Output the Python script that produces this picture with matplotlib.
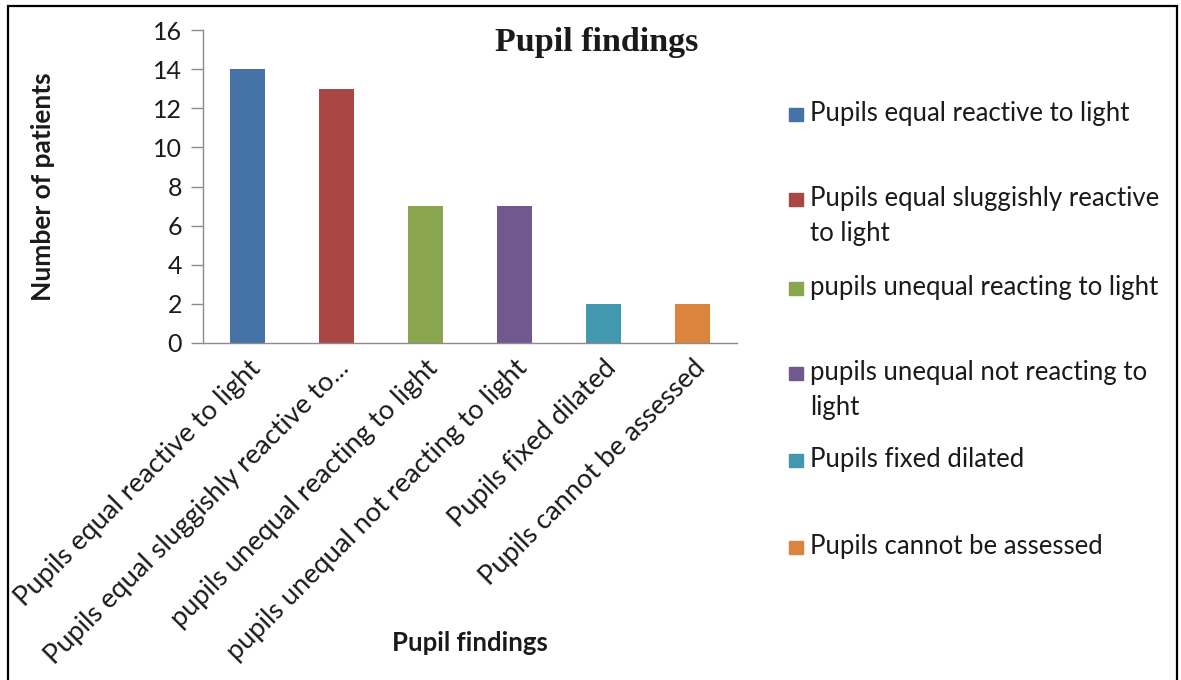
import matplotlib
matplotlib.use("Agg")
import matplotlib.pyplot as plt
from matplotlib.patches import Rectangle

# Pupil findings counts
categories = [
    "Pupils equal reactive to light",
    "Pupils equal sluggishly reactive to light",
    "pupils unequal reacting to light",
    "pupils unequal not reacting to light",
    "Pupils fixed dilated",
    "Pupils cannot be assessed",
]
tick_labels = [
    "Pupils equal reactive to light",
    "Pupils equal sluggishly reactive to...",
    "pupils unequal reacting to light",
    "pupils unequal not reacting to light",
    "Pupils fixed dilated",
    "Pupils cannot be assessed",
]
legend_labels = [
    "Pupils equal reactive to light",
    "Pupils equal sluggishly reactive\nto light",
    "pupils unequal reacting to light",
    "pupils unequal not reacting to\nlight",
    "Pupils fixed dilated",
    "Pupils cannot be assessed",
]
patients = [14, 13, 7, 7, 2, 2]
colors = ["#4572A7", "#AA4643", "#89A54E", "#71588F", "#4198AF", "#DB843D"]

W, H = 1181, 680
plt.rcParams["font.family"] = ["Lato", "DejaVu Sans"]
text_color = "#1a1a1a"
axis_gray = "#8c8c8c"
font_size = 18.5

fig = plt.figure(figsize=(W / 100, H / 100), dpi=100)
ax = fig.add_axes([203 / W, 1 - 343 / H, 534 / W, 313 / H])

x = list(range(len(categories)))
ax.bar(x, patients, width=0.39, color=colors, zorder=2)

ax.set_xlim(-0.5, len(categories) - 0.5)
ax.set_ylim(0, 16)
ax.set_yticks(range(0, 17, 2))
ax.set_xticks(x)
ax.set_xticklabels(tick_labels, rotation=45, ha="right", rotation_mode="anchor",
                   fontsize=19.5, color=text_color)
ax.tick_params(axis="x", length=0, pad=9)
ax.tick_params(axis="y", length=9, width=1, color=axis_gray, labelsize=18,
               labelcolor=text_color, pad=6)

for side in ("top", "right"):
    ax.spines[side].set_visible(False)
for side in ("left", "bottom"):
    ax.spines[side].set_color(axis_gray)
    ax.spines[side].set_linewidth(1)

ax.set_ylabel("Number of patients", fontsize=19, fontweight="bold",
              color=text_color)
ax.yaxis.set_label_coords(-0.277, 0.5)
ax.set_xlabel("Pupil findings", fontsize=font_size, fontweight="bold",
              color=text_color)
ax.xaxis.set_label_coords(0.5, -0.958)
ax.xaxis.label.set_va("center")

fig.text(597 / W, 1 - 43 / H, "Pupil findings", family="Liberation Serif",
         fontweight="bold", fontsize=24.5, ha="center", va="center",
         color=text_color)

# legend: a colour square per entry, label lines placed on fixed baselines
first_baselines = [121, 206, 295, 380, 467, 554]
line_step = 35
for label, color, base in zip(legend_labels, colors, first_baselines):
    fig.patches.append(Rectangle((789 / W, 1 - base / H), 14 / W, 13 / H,
                                 transform=fig.transFigure, color=color))
    for j, line in enumerate(label.split("\n")):
        fig.text(810 / W, 1 - (base + j * line_step) / H, line,
                 fontsize=font_size, va="baseline", ha="left", color=text_color)

# outer frame
fig.patches.append(Rectangle((8 / W, -0.05), (1177 - 8) / W, 1.05 - 6 / H,
                             transform=fig.transFigure, fill=False,
                             edgecolor="black", linewidth=1.6))

fig.savefig("out.png", dpi=100)
